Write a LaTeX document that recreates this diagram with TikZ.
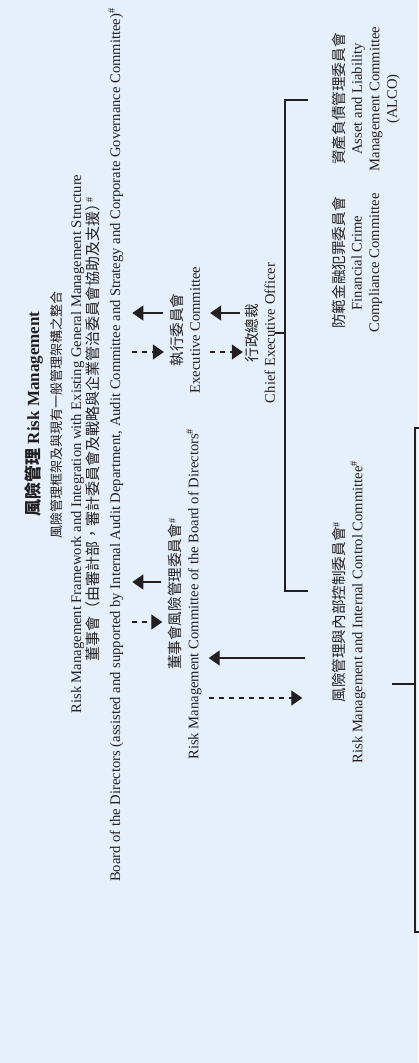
\documentclass[tikz,border=0pt]{standalone}
\usepackage{fontspec}
\setmainfont{Liberation Serif}
\newfontfamily\cjk{Noto Sans CJK TC}
\usetikzlibrary{arrows.meta}
\definecolor{panelblue}{RGB}{230,240,250}
\definecolor{inkgray}{RGB}{35,31,32}

\begin{document}
\begin{tikzpicture}[x=1pt,y=-1pt,
  txt/.style={rotate=90,inner sep=0pt,align=center,text=inkgray,font=\fontsize{14.6}{17.5}\selectfont},
  report/.style={-{Triangle[length=11pt,width=15pt]},line width=1.3pt,draw=inkgray},
  oversee/.style={report,dash pattern=on 5pt off 5pt},
  link/.style={line width=1.4pt,draw=inkgray}]
\useasboundingbox (0,0) rectangle (418,1063);
\fill[panelblue] (0,0) rectangle (418,1063);

\node[txt,anchor=base,font=\fontsize{17}{20}\selectfont\bfseries] (title) at (39,414) {{\cjk 風險管理} Risk Management};
\node[txt,anchor=base,font=\fontsize{13}{16}\selectfont] (subcn) at (61,415) {\cjk 風險管理框架及與現有一般管理架構之整合};
\node[txt,anchor=base] (suben) at (81,444) {Risk Management Framework and Integration with Existing General Management Structure};
\node[txt,anchor=base] (boardcn) at (98,429) {{\cjk\fontsize{15}{17}\selectfont 董事會（由審計部，審計委員會及戰略與企業管治委員會協助及支援）}\kern-6pt\textsuperscript{\#}};
\node[txt,anchor=base] (boarden) at (120,445) {Board of the Directors (assisted and supported by Internal Audit Department, Audit Committee and Strategy and Corporate Governance Committee)\textsuperscript{\#}};

\node[txt] (brc) at (185,594) {{\cjk 董事會風險管理委員會}\textsuperscript{\#}\\Risk Management Committee of the Board of Directors\textsuperscript{\#}};
\node[txt] (exco) at (185,330) {{\cjk 執行委員會}\\Executive Committee};
\node[txt] (ceo) at (260,333) {{\cjk 行政總裁}\\Chief Executive Officer};
\node[txt] (rmicc) at (349,612) {{\cjk 風險管理與內部控制委員會}\textsuperscript{\#}\\Risk Management and Internal Control Committee\textsuperscript{\#}};
\node[txt] (fccc) at (357,263) {{\cjk 防範金融犯罪委員會}\\Financial Crime\\Compliance Committee};
\node[txt] (alco) at (366,99) {{\cjk 資產負債管理委員會}\\Asset and Liability\\Management Committee\\(ALCO)};

\draw[report,shorten <=7pt,shorten >=9pt] ([yshift=17pt]exco.north) -- ([yshift=17pt]exco.north -| boarden.south);
\draw[oversee,shorten <=9pt,shorten >=6pt] ([yshift=-22pt]exco.north -| boarden.south) -- ([yshift=-22pt]exco.north);
\draw[report,shorten <=7pt,shorten >=9pt] ([yshift=12pt]brc.north) -- ([yshift=12pt]brc.north -| boarden.south);
\draw[oversee,shorten <=9pt,shorten >=6pt] ([yshift=-28pt]brc.north -| boarden.south) -- ([yshift=-28pt]brc.north);

\draw[report,shorten <=5pt,shorten >=10pt] ([yshift=17pt]exco.south -| ceo.north) -- ([yshift=17pt]exco.south);
\draw[oversee,shorten <=10pt,shorten >=2pt] ([yshift=-22pt]exco.south) -- ([yshift=-22pt]exco.south -| ceo.north);

\draw[report,shorten <=27pt,shorten >=7pt] ([yshift=-64pt]brc.south -| rmicc.north) -- ([yshift=-64pt]brc.south);
\draw[oversee,shorten <=7pt,shorten >=30pt] ([yshift=-104pt]brc.south) -- ([yshift=-104pt]brc.south -| rmicc.north);

\coordinate (ceoJ) at (285,333);
\coordinate (alcoT) at (308,100);
\coordinate (rmicT) at (308,591);
\draw[link] (alcoT) -| (ceoJ) |- (rmicT);
\draw[link] (ceo.south) -- (ceoJ);

\coordinate (rmJ) at (415,684);
\draw[link] (424,428) -| (rmJ) |- (424,932);
\draw[link] ([xshift=-23pt]rmJ) -- (rmJ);
\end{tikzpicture}
\end{document}
